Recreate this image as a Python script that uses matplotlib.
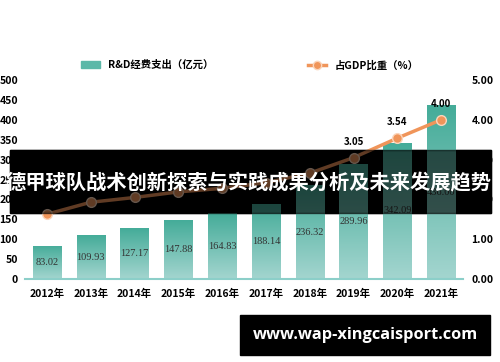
import numpy as np
import matplotlib
matplotlib.use('Agg')
import matplotlib.pyplot as plt
from matplotlib.patches import Rectangle, Patch
from matplotlib.lines import Line2D
from matplotlib.colors import LinearSegmentedColormap

plt.rcParams['font.family'] = ['Noto Sans CJK SC', 'DejaVu Sans']

years = ['2012年', '2013年', '2014年', '2015年', '2016年', '2017年', '2018年', '2019年', '2020年', '2021年']
spend = [83.02, 109.93, 127.17, 147.88, 164.83, 188.14, 236.32, 289.96, 342.09, 436.00]
ratio = [1.63, 1.93, 2.05, 2.19, 2.28, 2.42, 2.66, 3.05, 3.54, 4.00]

bar_label = 'R&D经费支出（亿元）'
line_label = '占GDP比重（%）'
title = '德甲球队战术创新探索与实践成果分析及未来发展趋势'
site = 'www.wap-xingcaisport.com'

teal_top = '#45ac99'
teal_bot = '#a3d5cf'
orange = '#f0955a'

fig = plt.figure(figsize=(5, 3.62), dpi=100)
ax1 = fig.add_axes([0.05, 0.229, 0.876, 0.55])
ax2 = ax1.twinx()

x = np.arange(len(years))
w = 0.64
cmap = LinearSegmentedColormap.from_list('tg', [teal_bot, teal_top])
grad = np.linspace(0, 1, 100).reshape(-1, 1)

# gradient bars: image clipped to each bar
bars = ax1.bar(x, spend, width=w, color='none', zorder=2)
for b, v in zip(bars, spend):
    im = ax1.imshow(grad, cmap=cmap, origin='lower', aspect='auto', zorder=2,
                    extent=[b.get_x(), b.get_x() + w, 0, v])
    im.set_clip_path(b)
    ax1.text(b.get_x() + w / 2, v / 2, f'{v:.2f}', ha='center', va='center',
             fontsize=7.5, color='#333333', family='Liberation Serif', zorder=3)

ax1.set_xlim(-0.5, len(years) - 0.5)
ax1.set_ylim(0, 500)
ax1.set_yticks(np.arange(0, 501, 50))
ax1.set_xticks(x)
ax1.set_xticklabels(years)
ax1.axhline(0, color='#8ccfc9', lw=1.5, zorder=4, clip_on=False)

ax2.plot(x, ratio, color=orange, lw=2.5, marker='o', ms=7,
         mfc=orange, mec='#fbd5bb', mew=1, zorder=5)
for xi, r in zip(x, ratio):
    ax2.annotate(f'{r:.2f}', (xi, r), xytext=(0, 8), textcoords='offset points',
                 ha='center', va='bottom', fontsize=7, fontweight='bold', color='black')
ax2.set_ylim(0, 5)
ax2.set_yticks(np.arange(0, 6, 1))
ax2.set_yticklabels([f'{v:.2f}' for v in np.arange(0, 6, 1)])

for a in (ax1, ax2):
    for s in a.spines.values():
        s.set_visible(False)
    a.tick_params(length=0, labelsize=7.5, pad=4)
    for lab in a.get_xticklabels() + a.get_yticklabels():
        lab.set_fontweight('bold')
ax1.tick_params(axis='x', pad=7)
ax1.tick_params(axis='y', pad=5)
ax2.tick_params(axis='y', pad=6)
ax1.set_zorder(1)
ax2.set_zorder(2)
ax1.patch.set_visible(False)
ax2.patch.set_visible(False)

handles = [Patch(color='#5cb8a8'),
           Line2D([], [], color=orange, lw=2.5, marker='o', ms=6, mfc=orange, mec='#fbd5bb')]
fig.legend(handles, [bar_label, line_label], loc='center', bbox_to_anchor=(0.5, 0.82),
           ncol=2, frameon=False, columnspacing=9, handlelength=1.8,
           prop={'size': 7.5, 'weight': 'bold'})

# banner: black below the chart, dimming layer above it
band = (0.02, 0.4116)
fig.add_artist(Rectangle(band, 0.962, 0.174, transform=fig.transFigure,
                         color='black', zorder=0.5))
fig.add_artist(Rectangle(band, 0.962, 0.174, transform=fig.transFigure,
                         color='black', alpha=0.6, zorder=10))
fig.text(0.498, 0.495, title, ha='center', va='center', color='white',
         fontsize=14.6, fontweight='bold', zorder=11)

fig.add_artist(Rectangle((0.48, 0.019), 0.5, 0.111, transform=fig.transFigure,
                         color='black', zorder=10))
fig.text(0.73, 0.074, site, ha='center', va='center', color='white',
         fontsize=11.8, fontweight='bold', family='Open Sans', zorder=11)

fig.savefig('out.png', dpi=100)
